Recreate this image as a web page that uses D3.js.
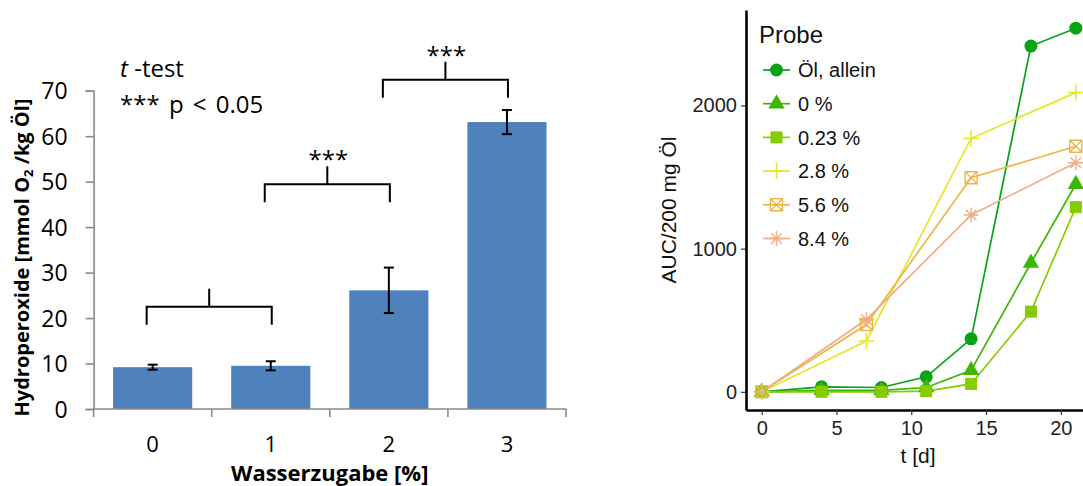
<!DOCTYPE html>
<html>
<head>
<meta charset="utf-8">
<script src="https://cdn.jsdelivr.net/npm/d3@7"></script>
<style>
  html, body { margin: 0; padding: 0; background: #ffffff; }
  svg { display: block; }
</style>
</head>
<body>
<script>
// ---------------- Left chart data ----------------
const categories = ["0", "1", "2", "3"];
const hydroValues = [9.2, 9.5, 26.1, 63.1];
const hydroErrors = [0.55, 1.0, 5.0, 2.65];
const leftYTicks = [0, 10, 20, 30, 40, 50, 60, 70];
const bracketPairs = [["0", "1"], ["1", "2"], ["2", "3"]];
const bracketLevels = [22.5, 49.4, 72.4];
const bracketLabels = ["", "***", "***"];

// ---------------- Right chart data ----------------
const seriesNames = ["Öl, allein", "0 %", "0.23 %", "2.8 %", "5.6 %", "8.4 %"];
const seriesShapes = ["circle", "triangle", "square", "plus", "squareX", "asterisk"];
const seriesColors = ["#07a414", "#3cb700", "#86cc00", "#e6e62a", "#ebb64a", "#efae86"];
const daysLong = [0, 4, 8, 11, 14, 18, 21];
const daysShort = [0, 7, 14, 21];
const oelAllein = [0, 35, 30, 105, 370, 2415, 2540];
const water0 = [0, 10, 10, 30, 150, 900, 1450];
const water023 = [0, 0, 0, 5, 55, 560, 1290];
const water28 = [0, 355, 1770, 2090];
const water56 = [0, 470, 1495, 1715];
const water84 = [0, 505, 1235, 1600];
const rightXTicks = [0, 5, 10, 15, 20];
const rightYTicks = [0, 1000, 2000];

const svg = d3.select("body").append("svg")
  .attr("width", 1083).attr("height", 486);

// ================= LEFT: bar chart =================
const LF = "'Open Sans', 'DejaVu Sans', sans-serif";
const xL = d3.scaleBand().domain(categories).range([93.6, 566])
  .paddingInner(0.33).paddingOuter(0.165);
const yL = d3.scaleLinear().domain([0, 70]).range([409, 90.7]);
const gL = svg.append("g");
const axisGrey = "#8a8a8a";

// bars
gL.selectAll("rect.bar").data(categories).join("rect")
  .attr("class", "bar")
  .attr("x", d => xL(d))
  .attr("width", xL.bandwidth())
  .attr("y", (d, i) => yL(hydroValues[i]))
  .attr("height", (d, i) => yL(0) - yL(hydroValues[i]))
  .attr("fill", "#4f81bd");

// y axis
const yAxisL = d3.axisLeft(yL).tickValues(leftYTicks).tickSize(8).tickPadding(18);
const yAxG = gL.append("g").attr("transform", `translate(${xL.range()[0]},0)`).call(yAxisL);
yAxG.select(".domain").attr("stroke", axisGrey).attr("stroke-width", 1.6);
yAxG.selectAll(".tick line").attr("stroke", axisGrey).attr("stroke-width", 1.6);
yAxG.selectAll(".tick text").attr("font-family", LF).attr("font-size", 23)
  .attr("fill", "#000").attr("dy", "0.36em");

// x axis line + boundary ticks
const step = xL.step();
const x0 = xL.range()[0], x1 = xL.range()[1];
gL.append("line").attr("x1", x0).attr("x2", x1).attr("y1", yL(0)).attr("y2", yL(0))
  .attr("stroke", axisGrey).attr("stroke-width", 1.6);
const boundaries = categories.map(c => xL(c) - (step - xL.bandwidth()) / 2).concat([x1]);
gL.selectAll("line.bt").data(boundaries).join("line").attr("class", "bt")
  .attr("x1", d => d).attr("x2", d => d).attr("y1", yL(0)).attr("y2", yL(0) + 8)
  .attr("stroke", axisGrey).attr("stroke-width", 1.6);
gL.selectAll("text.cat").data(categories).join("text").attr("class", "cat")
  .attr("x", d => xL(d) + xL.bandwidth() / 2).attr("y", 452)
  .attr("text-anchor", "middle").attr("font-family", LF).attr("font-size", 22)
  .text(d => d);

// error bars
const eb = gL.append("g").attr("stroke", "#000").attr("stroke-width", 2);
categories.forEach((c, i) => {
  const cx = xL(c) + xL.bandwidth() / 2;
  const top = yL(hydroValues[i] + hydroErrors[i]);
  const bot = yL(hydroValues[i] - hydroErrors[i]);
  eb.append("line").attr("x1", cx).attr("x2", cx).attr("y1", top).attr("y2", bot);
  eb.append("line").attr("x1", cx - 5).attr("x2", cx + 5).attr("y1", top).attr("y2", top);
  eb.append("line").attr("x1", cx - 5).attr("x2", cx + 5).attr("y1", bot).attr("y2", bot);
});

// significance brackets
const br = gL.append("g");
bracketPairs.forEach((p, i) => {
  const xa = xL(p[0]) + xL.bandwidth() / 2 - 6;
  const xb = xL(p[1]) + xL.bandwidth() / 2 + 1;
  const yy = yL(bracketLevels[i]);
  const xm = (xa + xb) / 2;
  br.append("path")
    .attr("d", `M${xa},${yy + 18}V${yy}H${xb}V${yy + 18}M${xm},${yy}V${yy - 18}`)
    .attr("fill", "none").attr("stroke", "#000").attr("stroke-width", 2);
  if (bracketLabels[i]) {
    br.append("text").attr("x", xm + 1).attr("y", yy - 18 + 2)
      .attr("text-anchor", "middle").attr("font-family", LF).attr("font-size", 24)
      .text(bracketLabels[i]);
  }
});

// t-test annotation
const ann = gL.append("text").attr("x", 120).attr("y", 77)
  .attr("font-family", LF).attr("font-size", 24);
ann.append("tspan").attr("font-style", "italic").text("t");
ann.append("tspan").text(" -test");
gL.append("text").attr("x", 120).attr("y", 113)
  .attr("font-family", LF).attr("font-size", 24).attr("word-spacing", 3)
  .text("*** p < 0.05");

// axis titles
const yt = gL.append("text")
  .attr("transform", "translate(28.5,257.5) rotate(-90)")
  .attr("text-anchor", "middle").attr("font-family", LF)
  .attr("font-weight", "bold").attr("font-size", 20);
yt.append("tspan").text("Hydroperoxide [mmol O");
yt.append("tspan").attr("font-size", 13).attr("dy", 4).text("2");
yt.append("tspan").attr("dy", -4).text(" /kg Öl]");
gL.append("text").attr("x", (x0 + x1) / 2).attr("y", 481)
  .attr("text-anchor", "middle").attr("font-family", LF)
  .attr("font-weight", "bold").attr("font-size", 22)
  .text("Wasserzugabe [%]");

// ================= RIGHT: line chart =================
const RF = "'Liberation Sans', Arial, sans-serif";
const xR = d3.scaleLinear().domain([-1.05, 22.05]).range([746, 1091.5]);
const yR = d3.scaleLinear().domain([-127, 2667]).range([410, 10]);
const gR = svg.append("g");

const seriesData = [
  daysLong.map((d, i) => [d, oelAllein[i]]),
  daysLong.map((d, i) => [d, water0[i]]),
  daysLong.map((d, i) => [d, water023[i]]),
  daysShort.map((d, i) => [d, water28[i]]),
  daysShort.map((d, i) => [d, water56[i]]),
  daysShort.map((d, i) => [d, water84[i]])
];

function drawMarker(g, shape, x, y, color) {
  if (shape === "circle") {
    g.append("circle").attr("cx", x).attr("cy", y).attr("r", 6.5).attr("fill", color);
  } else if (shape === "triangle") {
    g.append("path").attr("d", d3.symbol(d3.symbolTriangle, 115)())
      .attr("transform", `translate(${x},${y})`).attr("fill", color);
  } else if (shape === "square") {
    g.append("rect").attr("x", x - 6).attr("y", y - 6).attr("width", 12).attr("height", 12)
      .attr("fill", color);
  } else if (shape === "plus") {
    g.append("path").attr("d", `M${x - 8},${y}H${x + 8}M${x},${y - 8}V${y + 8}`)
      .attr("stroke", color).attr("stroke-width", 1.5).attr("fill", "none");
  } else if (shape === "squareX") {
    g.append("path")
      .attr("d", `M${x - 6},${y - 6}H${x + 6}V${y + 6}H${x - 6}Z M${x - 6},${y - 6}L${x + 6},${y + 6}M${x + 6},${y - 6}L${x - 6},${y + 6}`)
      .attr("stroke", color).attr("stroke-width", 1.4).attr("fill", "none");
  } else if (shape === "asterisk") {
    const r = 7.5, q = 5.3;
    g.append("path")
      .attr("d", `M${x - r},${y}H${x + r}M${x},${y - r}V${y + r}M${x - q},${y - q}L${x + q},${y + q}M${x + q},${y - q}L${x - q},${y + q}`)
      .attr("stroke", color).attr("stroke-width", 1.4).attr("fill", "none");
  }
}

const line = d3.line().x(d => xR(d[0])).y(d => yR(d[1]));
const linesG = gR.append("g");
seriesData.forEach((s, i) => {
  linesG.append("path").attr("d", line(s)).attr("fill", "none")
    .attr("stroke", seriesColors[i]).attr("stroke-width", 1.7);
});
const ptsG = gR.append("g");
seriesData.forEach((s, i) => {
  s.forEach(p => drawMarker(ptsG, seriesShapes[i], xR(p[0]), yR(p[1]), seriesColors[i]));
});

// axes
const yAxR = gR.append("g").attr("transform", "translate(746,0)")
  .call(d3.axisLeft(yR).tickValues(rightYTicks).tickFormat(d3.format("d"))
    .tickSize(5).tickPadding(4).tickSizeOuter(0));
yAxR.select(".domain").attr("stroke", "#000").attr("stroke-width", 2.6);
yAxR.selectAll(".tick line").attr("stroke", "#333").attr("stroke-width", 1.2);
yAxR.selectAll(".tick text").attr("font-family", RF).attr("font-size", 20).attr("fill", "#222");
const xAxR = gR.append("g").attr("transform", "translate(0,410)")
  .call(d3.axisBottom(xR).tickValues(rightXTicks).tickFormat(d3.format("d"))
    .tickSize(5).tickPadding(6).tickSizeOuter(0));
xAxR.select(".domain").attr("stroke", "#000").attr("stroke-width", 2.6);
xAxR.selectAll(".tick line").attr("stroke", "#333").attr("stroke-width", 1.2);
xAxR.selectAll(".tick text").attr("font-family", RF).attr("font-size", 20).attr("fill", "#222");

// titles
gR.append("text").attr("transform", "translate(676,210) rotate(-90)")
  .attr("text-anchor", "middle").attr("font-family", RF).attr("font-size", 21)
  .attr("fill", "#111").text("AUC/200 mg Öl");
gR.append("text").attr("x", 918).attr("y", 463)
  .attr("text-anchor", "middle").attr("font-family", RF).attr("font-size", 21)
  .attr("fill", "#111").text("t [d]");

// legend
const lg = gR.append("g");
lg.append("text").attr("x", 759).attr("y", 42.5).attr("font-family", RF)
  .attr("font-size", 24).attr("fill", "#111").text("Probe");
seriesNames.forEach((n, i) => {
  const yy = 70 + i * 33.7;
  lg.append("line").attr("x1", 763).attr("x2", 790).attr("y1", yy).attr("y2", yy)
    .attr("stroke", seriesColors[i]).attr("stroke-width", 1.7);
  drawMarker(lg, seriesShapes[i], 776.5, yy, seriesColors[i]);
  lg.append("text").attr("x", 798).attr("y", yy).attr("dy", "0.36em")
    .attr("font-family", RF).attr("font-size", 20).attr("fill", "#111").text(n);
});
</script>
</body>
</html>
